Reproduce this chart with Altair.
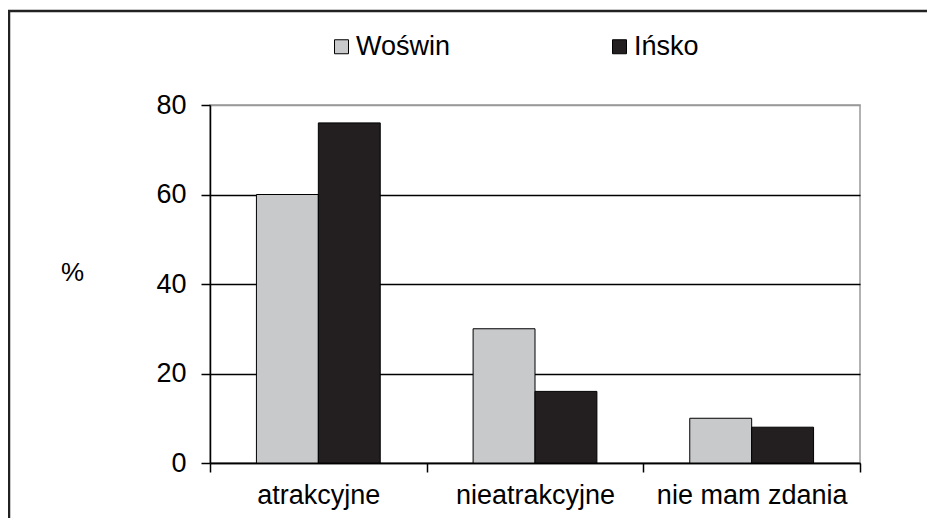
import altair as alt
import pandas as pd

categories = ["atrakcyjne", "nieatrakcyjne", "nie mam zdania"]
series_names = ["Woświn", "Ińsko"]
woswin = [60, 30, 10]
insko = [76, 16, 8]
y_ticks = [0, 20, 40, 60, 80]
colors = ["#c8c9cb", "#231f20"]

rows = []
for c, a, b in zip(categories, woswin, insko):
    rows.append({"category": c, "series": series_names[0], "value": a})
    rows.append({"category": c, "series": series_names[1], "value": b})
df = pd.DataFrame(rows)

FONT = "Liberation Sans"
FS = 27

bars = alt.Chart(df).mark_bar(stroke="black", strokeWidth=1).encode(
    x=alt.X("category:N", sort=categories,
            scale=alt.Scale(paddingInner=0, paddingOuter=0),
            axis=alt.Axis(title=None, labelAngle=0, tickBand="extent", labelLimit=400,
                          labelFontSize=FS, labelFont=FONT, labelColor="black",
                          labelPadding=10, tickSize=9, tickColor="black",
                          domainColor="black", domainWidth=1.5, tickWidth=1.5,
                          grid=False)),
    xOffset=alt.XOffset("series:N", sort=series_names,
                        scale=alt.Scale(paddingInner=0, paddingOuter=0.75)),
    y=alt.Y("value:Q", scale=alt.Scale(domain=[0, 80]),
            axis=alt.Axis(values=y_ticks, title="%", titleAngle=0, titleFontSize=26,
                          titleFont=FONT, titleFontWeight="normal", titleColor="black",
                          titleX=-138, titleY=167, titleAlign="center", titleBaseline="middle",
                          labelFontSize=FS, labelFont=FONT, labelColor="black",
                          labelPadding=15, tickSize=9, tickColor="black", tickWidth=1.5,
                          domainColor="black", domainWidth=1.5,
                          grid=True, gridWidth=1.5,
                          gridColor={"condition": {"test": "datum.value == 80", "value": "#999999"},
                                     "value": "black"})),
    color=alt.Color("series:N", sort=series_names,
                    scale=alt.Scale(domain=series_names, range=colors),
                    legend=alt.Legend(title=None, orient="none", direction="horizontal",
                                      legendX=118, legendY=-72,
                                      symbolType="square", symbolSize=196,
                                      symbolStrokeColor="black", symbolStrokeWidth=1,
                                      labelFontSize=FS, labelFont=FONT, labelColor="black",
                                      labelOffset=1, columnPadding=155, padding=0)),
)

frame = alt.Chart(pd.DataFrame({"f": [0]})).mark_rect(
    fill=None, stroke="#222222", strokeWidth=2.5
).encode(
    x=alt.value(-201), x2=alt.value(760), y=alt.value(-94), y2=alt.value(480)
)

chart = alt.layer(bars, frame).properties(
    width=650, height=358,
    autosize=alt.AutoSizeParams(type="none"),
    padding={"left": 202, "top": 97, "right": 67, "bottom": 70},
).configure_view(stroke="#999999", strokeWidth=1.5)

chart.save("out.html", embed_options={"renderer": "svg", "actions": False})
